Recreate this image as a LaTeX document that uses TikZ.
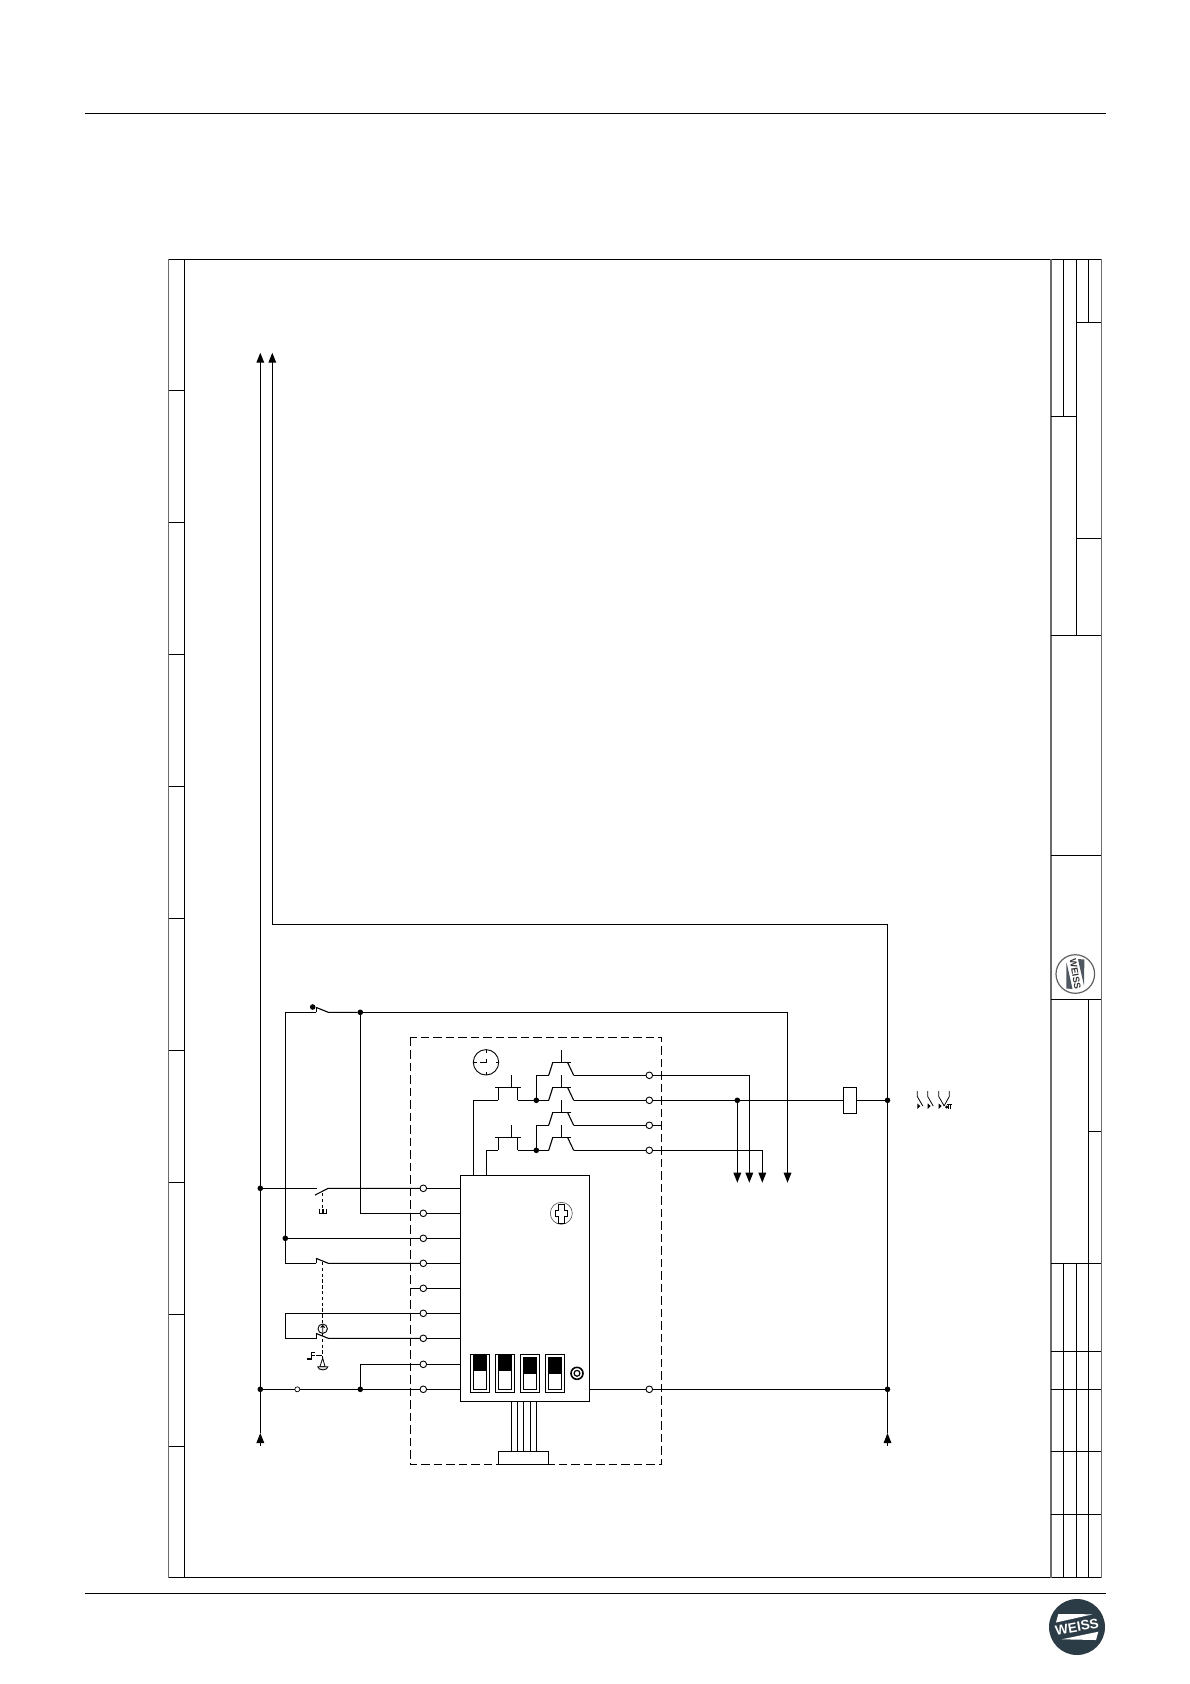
\documentclass[tikz,border=0pt]{standalone}
\usepackage{fontspec}
\setmainfont{Liberation Sans}
\usetikzlibrary{arrows.meta,calc}
\definecolor{logodark}{HTML}{2C3C46}
\definecolor{logogray}{HTML}{4F5760}
\tikzset{
  wire/.style={line width=1.1pt,black},
  tipped/.style={wire,-{Triangle[length=10pt,width=7.6pt]}},
  thinrule/.style={line width=1pt,black},
  grayrule/.style={line width=1.3pt,black!58},
  dashedbox/.style={line width=1.05pt,dash pattern=on 8.5pt off 4pt},
  coupling/.style={line width=0.9pt,dash pattern=on 3.4pt off 2.4pt},
  terminal/.style={circle,draw,line width=0.9pt,fill=white,minimum size=6.6pt,inner sep=0pt,outer sep=0pt},
  smallterminal/.style={circle,draw,line width=0.7pt,fill=white,minimum size=5pt,inner sep=0pt,outer sep=0pt},
  dot/.style={circle,fill=black,minimum size=5.6pt,inner sep=0pt,outer sep=0pt},
  boxed/.style={draw,line width=1.1pt,fill=white,inner sep=0pt,outer sep=0pt,anchor=north west},
  relaycontact/.pic={
    \draw[wire] (0,0) -- (4,-12.6);
    \draw[wire] (3,-12.6) -- (22,-12.6);
    \draw[wire] (19,-12.6) -- (25,0);
    \draw[wire] (12.6,-12.6) -- (12.6,-25.3);
  },
  timercontact/.pic={
    \draw[wire] (0,-12.6) -- (0,0);
    \draw[wire] (-3.3,-12.6) -- (22.4,-12.6);
    \draw[wire] (19.4,-12.6) -- (19.4,0);
    \draw[wire] (13,-12.6) -- (13,-25.3);
  },
  minisymbol/.pic={
    \draw[line width=0.8pt] (0,0) -- (0,5.5) -- (5.5,15);
    \fill (0,12.5) -- (3,15) -- (0,18) -- cycle;
  }
}
\begin{document}
\begin{tikzpicture}[x=1pt,y=-1pt]
\useasboundingbox (0,0) rectangle (1190,1684);
% page rules
\coordinate (hl) at (85,113.5); \coordinate (hr) at (1105.5,113.5);
\coordinate (fl) at (85,1593.5); \coordinate (fr) at (1105.5,1593.5);
\draw[thinrule] (hl) -- (hr);
\draw[thinrule] (fl) -- (fr);
% frame
\draw[thinrule] (168.7,259.3) -- (1101.3,259.3);
\draw[thinrule] (168.7,1577.3) -- (1101.3,1577.3);
\draw[thinrule] (184.3,259.3) -- (184.3,1577.3);
\draw[grayrule] (168.7,258.8) -- (168.7,1577.8);
\draw[grayrule] (1051,258.8) -- (1051,1577.8);
\draw[grayrule] (1101.3,258.8) -- (1101.3,1577.8);
\foreach \y in {390.5,522.5,654.5,786.5,918.5,1050.5,1182.5,1314.5,1446.5}
  \draw[thinrule] (168.7,\y) -- (184.3,\y);
% title block
\draw[thinrule] (1063.3,259.3) -- (1063.3,416.3);
\draw[thinrule] (1076.3,259.3) -- (1076.3,635.3);
\draw[thinrule] (1088.3,259.3) -- (1088.3,322.3);
\draw[thinrule] (1076.3,322.3) -- (1101.3,322.3);
\draw[thinrule] (1051,416.3) -- (1076.3,416.3);
\draw[thinrule] (1076.3,538.3) -- (1101.3,538.3);
\draw[thinrule] (1051,635.3) -- (1101.3,635.3);
\draw[thinrule] (1051,855.3) -- (1101.3,855.3);
\draw[thinrule] (1051,999.3) -- (1101.3,999.3);
\draw[thinrule] (1088.5,999.3) -- (1088.5,1577.3);
\draw[thinrule] (1088.5,1131.3) -- (1101.3,1131.3);
\foreach \y in {1263.3,1351.3,1389.3,1451.3,1514.3}
  \draw[thinrule] (1051,\y) -- (1101.3,\y);
\draw[thinrule] (1063.3,1263.3) -- (1063.3,1577.3);
\draw[thinrule] (1076.3,1263.3) -- (1076.3,1577.3);
% title-block logo
\begin{scope}[shift={(1075.3,974)}]
  \draw[line width=1.2pt,black!62] (0,0) circle[radius=19.3];
  \fill[logogray] (9,-14.5) -- (8.8,12) -- (2.6,-15) -- cycle;
  \fill[logogray] (-2.8,15) -- (-9,14.5) -- (-8.8,-12) -- cycle;
  \node[rotate=-80,font=\bfseries\fontsize{9.3}{10}\selectfont,text=black!80,inner sep=0pt] (logotext) at (0,0) {WEISS};
\end{scope}
% footer logo
\begin{scope}[shift={(1077,1627)}]
  \fill[logodark] (0,0) circle[radius=28];
  \fill[white] (-18.7,-13) -- (15.7,-12.7) -- (-21,-4.5) -- cycle;
  \fill[white] (21.3,4.7) -- (19,13) -- (-15.3,12.3) -- cycle;
  \node[rotate=10,font=\bfseries\fontsize{13.6}{15}\selectfont,text=white,inner sep=0pt] (footlogo) at (0,0) {WEISS};
\end{scope}
% dashed enclosure
\draw[dashedbox] (410.4,1037.5) rectangle (661.7,1464.3);
% main unit and connector
\node[boxed,minimum width=129pt,minimum height=226pt] (mainbox) at (460.3,1175.3) {};
\node[boxed,minimum width=50.4pt,minimum height=12.6pt] (plug) at (498.3,1451.7) {};
\foreach \i/\x in {1/511.3,2/517.3,3/523.3,4/530.3,5/536.3}{
  \coordinate (pa\i) at (\x,1401.3);
  \coordinate (pb\i) at (\x,1451.7);
  \draw[line width=0.9pt] (pa\i) -- (pb\i);
}
% relay
\node[boxed,minimum width=13.4pt,minimum height=26pt] (relay) at (843.3,1087.3) {};
% terminals
\foreach \i/\y in {1/1188.3,2/1213.3,3/1238.3,4/1263.3,5/1288.3,6/1313.3,7/1338.3,8/1364.3,9/1389.3}
  \node[terminal] (lt\i) at (423.3,\y) {};
\foreach \i/\y in {1/1075.3,2/1100.3,3/1125.3,4/1150.3}
  \node[terminal] (rt\i) at (649.3,\y) {};
\node[terminal] (rt5) at (649.3,1389.3) {};
\node[smallterminal] (st) at (297.3,1389.3) {};
% junctions
\node[dot] (jb1) at (260.3,1188.3) {};
\node[dot] (jb2) at (260.3,1389.3) {};
\node[dot] (j2) at (285.3,1238.3) {};
\node[dot] (jt) at (360.3,1012.3) {};
\node[dot] (j3) at (360.3,1389.3) {};
\node[dot] (jA) at (536.3,1100.3) {};
\node[dot] (jB) at (536.3,1150.3) {};
\node[dot] (jC) at (737.3,1100.3) {};
\node[dot] (jR1) at (887.5,1100.3) {};
\node[dot] (jR2) at (887.5,1389.3) {};
\node[dot] (swdot) at (312.7,1007) {};
% named free ends
\coordinate (tipA) at (260.3,352.7);
\coordinate (tipB) at (272.3,352.7);
\coordinate (bendB) at (272.3,924.3);
\coordinate (bendR) at (887.5,924.3);
\coordinate (lowA) at (260.3,1433);
\coordinate (stubA) at (260.3,1445.7);
\coordinate (lowR) at (887.5,1433);
\coordinate (stubR) at (887.5,1445.7);
\coordinate (a1) at (737.3,1182.7);
\coordinate (a2) at (749.3,1182.7);
\coordinate (a3) at (762.3,1182.7);
\coordinate (a4) at (787.5,1182.7);
\coordinate (sw0l) at (316.3,1012.3);
\coordinate (sw0r) at (328.3,1012.3);
\coordinate (sw1l) at (316.7,1188.3);
\coordinate (sw1r) at (328.3,1188.3);
\coordinate (sw2l) at (316.3,1263.3);
\coordinate (sw2r) at (328.3,1263.3);
\coordinate (sw3l) at (316.3,1338.3);
\coordinate (sw3r) at (328.3,1338.3);
\coordinate (c2) at (285.3,1012.3);
\coordinate (c2b) at (285.3,1263.3);
\coordinate (c2c) at (285.3,1313.3);
\coordinate (c2d) at (285.3,1338.3);
\coordinate (c3) at (360.3,1213.3);
\coordinate (c3b) at (360.3,1364.3);
\coordinate (dashL) at (410.4,1288.3);
\coordinate (dashR) at (661.7,1125.3);
% buses
\draw[tipped] (jb1) -- (tipA);
\draw[wire] (jb1) -- (jb2);
\draw[wire] (jb2) -- (lowA);
\draw[tipped] (stubA) -- (lowA);
\draw[tipped] (jR1) -- (bendR) -- (bendB) -- (tipB);
\draw[wire] (jR1) -- (jR2);
\draw[wire] (jR2) -- (lowR);
\draw[tipped] (stubR) -- (lowR);
% top switch line
\draw[wire] (sw0l) -- (c2) -- (j2);
\draw[wire] (j2) -- (c2b) -- (sw2l);
\draw[wire] (sw0l) -- (316.3,1006.7);
\draw[wire] (316.3,1007.5) -- (sw0r) -- (jt);
\draw[tipped] (jt) -| (a4);
\draw[wire] (jt) -- (c3) -- (lt2);
% left rows
\draw[wire] (jb1) -- (sw1l);
\draw[wire] (315,1195) -- (sw1r) -- (lt1);
\draw[wire] (j2) -- (lt3);
\draw[wire] (sw2l) -- (316.3,1258);
\draw[wire] (316,1258.3) -- (sw2r) -- (lt4);
\draw[wire] (dashL) -- (lt5);
\draw[wire] (c2c) -- (lt6);
\draw[wire] (c2c) -- (c2d) -- (sw3l) -- (316.3,1333.4);
\draw[wire] (316,1333.4) -- (sw3r) -- (lt7);
\draw[wire] (j3) -- (c3b) -- (lt8);
\draw[wire] (jb2) -- (st);
\draw[wire] (st) -- (j3);
\draw[wire] (j3) -- (lt9);
\foreach \i in {1,...,9}
  \draw[wire] (lt\i) -- (lt\i -| mainbox.west);
% right of main unit
\draw[wire] (rt5 -| mainbox.east) -- (rt5);
\draw[wire] (rt5) -- (jR2);
% timer contacts
\coordinate (tA) at (498.3,1100.3);
\coordinate (tAr) at (517.7,1100.3);
\coordinate (tB) at (498.3,1150.3);
\coordinate (tBr) at (517.7,1150.3);
\pic at (tA) {timercontact};
\pic at (tB) {timercontact};
\draw[wire] ($(mainbox.north west)+(13,0)$) |- (tA);
\draw[wire] ($(mainbox.north west)+(26,0)$) |- (tB);
\draw[wire] (tAr) -- (jA);
\draw[wire] (tBr) -- (jB);
% relay contacts
\foreach \i/\y in {1/1075.3,2/1100.3,3/1125.3,4/1150.3}{
  \coordinate (cl\i) at (548.7,\y);
  \coordinate (cr\i) at (573.7,\y);
  \pic at (cl\i) {relaycontact};
  \draw[wire] (cr\i) -- (rt\i);
}
\draw[wire] (jA) |- (cl1);
\draw[wire] (jA) -- (cl2);
\draw[wire] (jB) |- (cl3);
\draw[wire] (jB) -- (cl4);
% outputs
\draw[tipped] (rt1) -| (a2);
\draw[wire] (rt2) -- (jC);
\draw[wire] (jC) -- (relay.west);
\draw[wire] (relay.east) -- (jR1);
\draw[tipped] (jC) -- (a1);
\draw[wire] (rt3) -- (dashR);
\draw[tipped] (rt4) -| (a3);
% clock
\begin{scope}[shift={(486,1062.3)}]
  \draw[line width=0.9pt] (0,0) circle[radius=12.7];
  \draw[line width=0.9pt] (0,-12.7) -- (0,-9.5) (0,12.7) -- (0,9.5) (-12.7,0) -- (-9.5,0) (12.7,0) -- (9.5,0);
  \draw[line width=0.9pt] (0.6,-3.2) -- (0.6,0) -- (-6.5,0);
\end{scope}
% adjusting screw
\begin{scope}[shift={(561.3,1213.3)}]
  \draw[line width=0.6pt,black!70] (0,0) circle[radius=11];
  \draw[line width=0.9pt] (-3,-9) -- (3,-9) -- (3,-3.3) -- (6.3,-3.3) -- (6.3,3.3) -- (3,3.3) -- (3,10) -- (-3,10) -- (-3,3.3) -- (-6.3,3.3) -- (-6.3,-3.3) -- (-3,-3.3) -- cycle;
\end{scope}
% DIP switches
\foreach \x/\t/\b in {470.3/1354.3/1370.7,495.3/1354.3/1370.7,520.3/1357/1374,545.3/1357/1374}{
  \draw[line width=0.95pt,fill=white] (\x,1354.3) rectangle ++(19.4,38);
  \draw[line width=0.95pt] (\x+3,\t) rectangle (\x+16.4,1389.3);
  \fill (\x+3,\t) rectangle (\x+16.4,\b);
}
\draw[line width=1.6pt] (577,1373.3) circle[radius=6];
\draw[line width=1.2pt] (577,1373.3) circle[radius=2.9];
% switch coupling and symbols
\draw[coupling] (322.7,1193) -- (322.7,1209);
\draw[wire] (319.3,1208.8) -- (319.3,1213.5) -- (326.7,1213.5) -- (326.7,1208.8) (323,1213.5) -- (323,1208.8);
\draw[coupling] (322.7,1262) -- (322.7,1324);
\draw[coupling] (322.7,1333) -- (322.7,1358);
\draw[line width=0.9pt,fill=white] (322.7,1328.7) circle[radius=4.7];
\draw[line width=0.9pt] (322.7,1332.5) -- (322.7,1325.5) (320.7,1327.6) -- (322.7,1325.5) -- (324.7,1327.6);
\draw[wire] (316,1355.7) -- (321.5,1355.7);
\draw[wire] (306.7,1359) -- (311.7,1359) -- (311.7,1352.3) -- (315,1352.3) (311.7,1355.5) -- (314.5,1355.5);
\draw[line width=0.8pt] (322.7,1358) -- (320,1366.5) -- (325,1366.5) -- cycle;
\draw[line width=0.9pt,fill=black!12] (317.8,1366.7) -- (327.8,1366.7) arc[start angle=0,end angle=180,x radius=5,y radius=3.2] -- cycle;
% contact symbols at the relay
\pic at (917.3,1091) {minisymbol};
\pic at (927.7,1091) {minisymbol};
\pic at (938.7,1091) {minisymbol};
\draw[line width=0.8pt] (949.3,1091) -- (949.3,1096.5) -- (944,1106);
\fill (946.7,1107) circle[radius=1.7];
\draw[line width=0.8pt] (948,1109) -- (948,1104.5) (950.8,1109) -- (950.8,1104.5) (947.2,1104.5) -- (951.6,1104.5);
\end{tikzpicture}
\end{document}
